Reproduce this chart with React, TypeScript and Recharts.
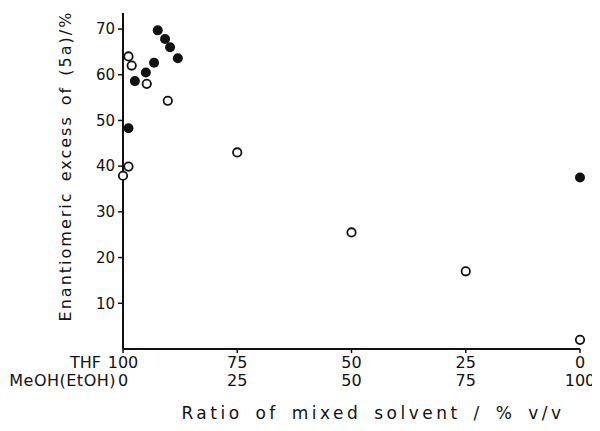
import { ScatterChart, Scatter, XAxis, YAxis, Label } from 'recharts';

// MeOH(EtOH) content in % v/v (THF = 100 - MeOH)
const openMeoh = [0, 1.2, 1.2, 1.9, 5.2, 9.8, 25, 50, 75, 100];
const openEe = [37.9, 39.9, 64.0, 62.0, 58.0, 54.3, 43, 25.5, 17, 2];
const filledMeoh = [1.2, 2.6, 5.0, 6.8, 7.6, 9.2, 10.3, 12.0, 100];
const filledEe = [48.3, 58.6, 60.5, 62.6, 69.7, 67.8, 66.0, 63.6, 37.5];

const xTicks = [0, 25, 50, 75, 100];
const yTicks = [10, 20, 30, 40, 50, 60, 70];

const openData = openMeoh.map((x, i) => ({ x, y: openEe[i] }));
const filledData = filledMeoh.map((x, i) => ({ x, y: filledEe[i] }));

const font = '"DejaVu Sans", sans-serif';
const ink = '#111';

function XTick(props: any) {
  const { x, y, payload, index } = props;
  const meoh = payload.value as number;
  const thf = 100 - meoh;
  return (
    <g fontFamily={font} fontSize={16} fill={ink}>
      <text x={x} y={y + 13} textAnchor="middle">{thf}</text>
      <text x={x} y={y + 31} textAnchor="middle">{meoh}</text>
      {index === 0 && (
        <>
          <text x={x - 22} y={y + 13} textAnchor="end">THF</text>
          <text x={x - 7} y={y + 31} textAnchor="end" letterSpacing={0.5}>MeOH(EtOH)</text>
        </>
      )}
    </g>
  );
}

const openDot = (p: any) => (
  <circle cx={p.cx} cy={p.cy} r={4.2} fill="#fff" stroke={ink} strokeWidth={1.8} />
);
const filledDot = (p: any) => <circle cx={p.cx} cy={p.cy} r={5} fill={ink} />;

export default function App() {
  return (
    <ScatterChart width={600} height={423} margin={{ top: 5, right: 28, bottom: 0, left: 0 }}>
      <XAxis
        type="number"
        dataKey="x"
        domain={[0, 100]}
        ticks={xTicks}
        tick={<XTick />}
        tickSize={4}
        height={82}
        axisLine={{ stroke: ink, strokeWidth: 2 }}
        tickLine={{ stroke: ink, strokeWidth: 1.5 }}
      >
        <Label
          content={() => (
            <text
              x={365}
              y={411}
              textAnchor="middle"
              fontFamily={font}
              fontSize={17}
              letterSpacing={3.5}
              wordSpacing={4}
              fill={ink}
            >
              Ratio of mixed solvent / % v/v
            </text>
          )}
        />
      </XAxis>
      <YAxis
        type="number"
        dataKey="y"
        domain={[0, 73.5]}
        ticks={yTicks}
        width={115}
        tickSize={5}
        tickMargin={3}
        tick={{ fontFamily: font, fontSize: 15, fill: ink }}
        axisLine={{ stroke: ink, strokeWidth: 2 }}
        tickLine={{ stroke: ink, strokeWidth: 1.5 }}
      >
        <Label
          content={() => (
            <text
              x={0}
              y={0}
              transform="translate(63,158) rotate(-90)"
              textAnchor="middle"
              fontFamily={font}
              fontSize={16}
              letterSpacing={2}
              wordSpacing={3}
              fill={ink}
            >
              Enantiomeric excess of (5a)/%
            </text>
          )}
        />
      </YAxis>
      <Scatter data={openData} shape={openDot} isAnimationActive={false} />
      <Scatter data={filledData} shape={filledDot} isAnimationActive={false} />
    </ScatterChart>
  );
}
